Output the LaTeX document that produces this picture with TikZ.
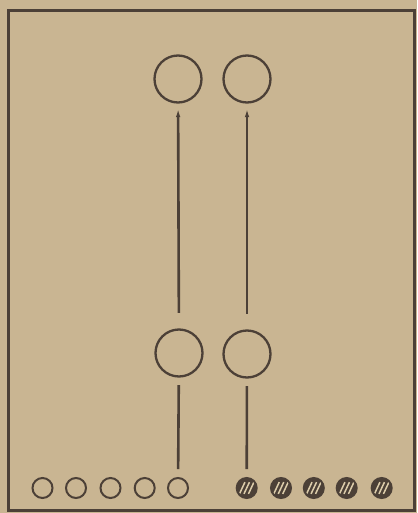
\documentclass[tikz,border=0pt]{standalone}
\usetikzlibrary{arrows.meta,positioning}
\definecolor{paper}{RGB}{201,181,146}
\definecolor{ink}{RGB}{76,64,55}
\definecolor{stripe}{RGB}{220,204,170}
\tikzset{every picture/.style={line width=0.75pt}}

\begin{document}
\begin{tikzpicture}[x=1pt,y=-1pt,
    ball/.style={circle,draw=ink,line width=2.3pt,minimum size=47pt,inner sep=0pt},
    bead/.style={circle,draw=ink,line width=2pt,minimum size=20pt,inner sep=0pt},
    darkbead/.style={bead,fill=ink,path picture={
        \foreach \d in {-4.5,0,4.5}
          \draw[stripe,line width=1.5pt] ([xshift=\d pt]path picture bounding box.center) ++(245:6.5pt) -- ++(65:13pt);}},
    rod/.style={draw=ink,line width=2.6pt}]
    % paper and frame
    \fill[paper] (0,0) rectangle (417,513);
    \draw[ink,line width=3pt] (8,11) rectangle (414,510);

    % upper pair
    \node[ball] (top1) at (178,79) {};
    \node[ball] (top2) at (247,79) {};

    % lower pair
    \node[ball] (mid1) at (179,353) {};
    \node[ball] (mid2) at (247,354) {};

    % row of beads
    \foreach \x [count=\i] in {42.5,76,110.5,144.7,178}
        \node[bead] (e\i) at (\x,488) {};
    \foreach \x [count=\i] in {246.7,281,313.8,346.7,381.7}
        \node[darkbead] (f\i) at (\x,488) {};

    % long rods with arrow tips
    \draw[rod,-{Latex[length=9pt,width=4.5pt]},shorten <=15.5pt,shorten >=4.5pt] (mid1) -- (top1);
    \draw[rod,-{Latex[length=9pt,width=4.5pt]},shorten <=15.5pt,shorten >=4.5pt] (mid2) -- (top2);

    % short rods
    \draw[rod,shorten <=7.5pt,shorten >=8pt] (mid1) -- (e5);
    \draw[rod,shorten <=7.5pt,shorten >=8pt] (mid2) -- (f1);
\end{tikzpicture}
\end{document}
